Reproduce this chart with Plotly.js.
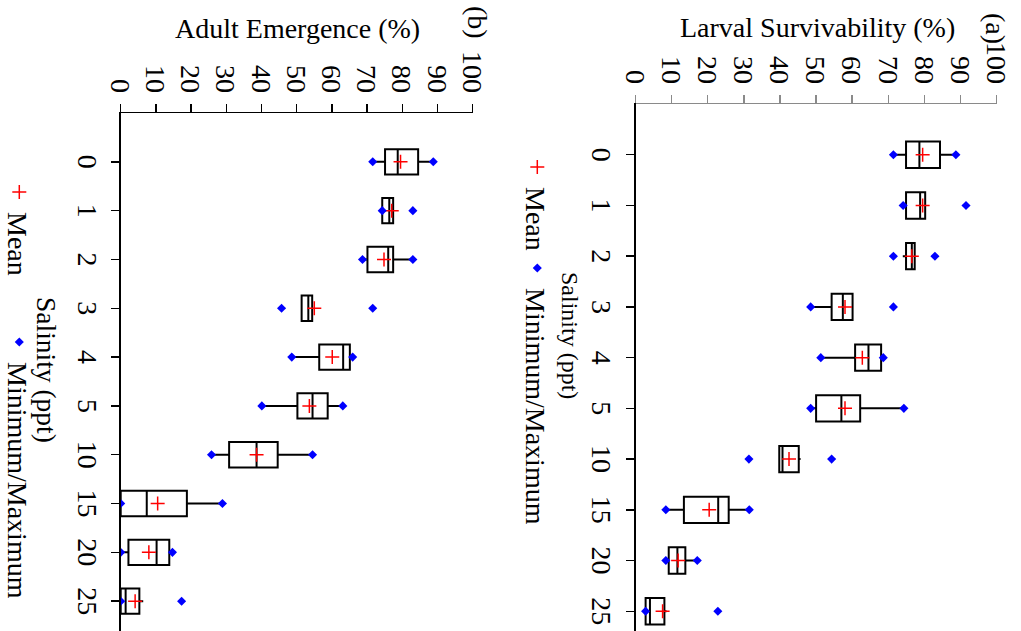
<!DOCTYPE html>
<html>
<head>
<meta charset="utf-8">
<script src="https://cdn.plot.ly/plotly-3.0.1.min.js"></script>
<style>
html, body { margin: 0; padding: 0; overflow: hidden; width: 1021px; height: 631px; background: #ffffff; }
#wrap { position: absolute; left: 0; top: 0; width: 700px; height: 1060px;
        transform-origin: 0 0; transform: translate(1021px, 0) rotate(90deg); }
</style>
</head>
<body>
<div id="wrap"></div>
<script>
// ---------- data ----------
const salinity = ['0', '1', '2', '3', '4', '5', '10', '15', '20', '25'];
const valueTicks = [0, 10, 20, 30, 40, 50, 60, 70, 80, 90, 100];

// (a) Larval Survivability (%)
const larvalMin    = [71.4, 74.1, 71.4, 48.5, 51.3, 48.5, 31.4,  8.4,  8.4,  2.8];
const larvalQ1     = [74.9, 74.9, 74.9, 54.3, 60.8, 50.0, 39.8, 13.4,  9.2,  2.8];
const larvalMedian = [78.6, 78.8, 76.5, 57.4, 64.5, 57.0, 40.7, 22.9, 11.6,  4.0];
const larvalQ3     = [84.3, 80.2, 77.3, 60.1, 68.0, 62.2, 45.2, 25.8, 13.8,  8.0];
const larvalMax    = [88.7, 91.5, 82.9, 71.4, 68.6, 74.3, 54.3, 31.5, 17.1, 22.8];
const larvalMean   = [79.5, 79.5, 76.5, 58.0, 62.8, 58.0, 42.5, 20.4, 11.8,  7.5];
const larvalLowW   = [71.4, 74.1, 74.0, 48.5, 51.3, 48.5, 39.8,  8.4,  8.4,  2.8];
const larvalHighW  = [88.7, 80.2, 77.3, 60.1, 68.6, 74.3, 45.7, 31.5, 17.1,  8.6];

// (b) Adult Emergence (%)
const adultMin    = [71.6, 74.3, 68.7, 45.7, 48.6, 40.1, 25.8,  0.0,  0.0,  0.0];
const adultQ1     = [75.1, 74.3, 70.1, 51.4, 56.4, 50.2, 30.8,  0.0,  2.2,  0.0];
const adultMedian = [78.7, 76.3, 76.0, 53.3, 63.2, 54.5, 38.6,  7.4, 10.2,  1.4];
const adultQ3     = [84.5, 77.4, 77.4, 54.4, 65.1, 58.8, 44.6, 18.8, 13.8,  5.3];
const adultMax    = [88.8, 83.0, 83.0, 71.6, 65.9, 63.1, 54.5, 28.9, 14.7, 17.3];
const adultMean   = [79.5, 77.0, 74.8, 55.0, 60.1, 53.6, 38.6, 10.5,  8.0,  4.1];
const adultLowW   = [71.6, 74.3, 68.7, 51.4, 48.6, 40.1, 25.8,  0.0,  0.0,  0.0];
const adultHighW  = [88.8, 77.4, 83.0, 54.4, 65.9, 63.1, 54.5, 28.9, 14.7,  6.4];

// ---------- figure (drawn upright, then rotated 90deg clockwise) ----------
const W = 700, H = 1060;
const FONT = 'Liberation Serif, Times New Roman, serif';
const px = X => X / W;
const py = Y => 1 - Y / H;
const catIndex = salinity.map((_, i) => i);

function boxTrace(q1, med, q3, lo, hi, xa, ya) {
  return {
    type: 'box', x: salinity, q1: q1, median: med, q3: q3,
    lowerfence: lo, upperfence: hi,
    xaxis: xa, yaxis: ya, width: 0.52, whiskerwidth: 0,
    boxpoints: false, line: { color: '#000000', width: 2 },
    fillcolor: 'rgba(255,255,255,0)', showlegend: false, hoverinfo: 'skip'
  };
}
function meanTrace(mean, xa, ya, leg) {
  return {
    type: 'scatter', mode: 'markers', x: salinity, y: mean, name: 'Mean',
    xaxis: xa, yaxis: ya, legend: leg, showlegend: true,
    marker: { symbol: 'cross-thin-open', size: 10, color: '#ff0000',
              line: { color: '#ff0000', width: 1.5 } }
  };
}
function minMaxTrace(mn, mx, xa, ya, leg) {
  return {
    type: 'scatter', mode: 'markers', x: salinity.concat(salinity), y: mn.concat(mx),
    name: 'Minimum/Maximum', xaxis: xa, yaxis: ya, legend: leg, showlegend: true,
    marker: { symbol: 'diamond', size: 7, color: '#0000ff' }
  };
}

const data = [
  boxTrace(larvalQ1, larvalMedian, larvalQ3, larvalLowW, larvalHighW, 'x', 'y'),
  meanTrace(larvalMean, 'x', 'y', 'legend'),
  minMaxTrace(larvalMin, larvalMax, 'x', 'y', 'legend3'),
  boxTrace(adultQ1, adultMedian, adultQ3, adultLowW, adultHighW, 'x2', 'y2'),
  meanTrace(adultMean, 'x2', 'y2', 'legend2'),
  minMaxTrace(adultMin, adultMax, 'x2', 'y2', 'legend4')
];

const GRAY = '#8a8a8a';
function catAxis(domain, anchor) {
  return {
    domain: domain, anchor: anchor, type: 'category', categoryorder: 'array', categoryarray: salinity,
    range: [-1, 10], tickmode: 'array', tickvals: salinity, ticktext: salinity,
    showline: true, linecolor: '#000000', linewidth: 1.5,
    ticks: 'outside', ticklen: 8, tickwidth: 1.5, tickcolor: '#000000',
    tickfont: { family: FONT, size: 28, color: '#000000' },
    showgrid: false, zeroline: false, automargin: false, fixedrange: true
  };
}
function catOverlay(over, anchor) {
  return {
    overlaying: over, anchor: anchor, side: 'bottom', type: 'linear', range: [-1, 10],
    tickmode: 'array', tickvals: catIndex, ticks: 'inside', ticklen: 8, tickwidth: 1.5,
    tickcolor: '#000000', showticklabels: false, showline: false, showgrid: false,
    zeroline: false, automargin: false, fixedrange: true
  };
}
function valAxis(domain, anchor, col) {
  return {
    domain: domain, anchor: anchor, range: [0, 100], tickmode: 'array', tickvals: valueTicks,
    showline: true, linecolor: col, linewidth: 1.5,
    ticks: 'outside', ticklen: 8, tickwidth: 1.5, tickcolor: col, ticklabelstandoff: 5,
    tickfont: { family: FONT, size: 28, color: '#000000' },
    showgrid: false, zeroline: false, automargin: false, fixedrange: true
  };
}
function valOverlay(over, anchor, col) {
  return {
    overlaying: over, anchor: anchor, side: 'left', range: [0, 100], tickmode: 'array',
    tickvals: valueTicks, ticks: 'inside', ticklen: 8, tickwidth: 1.5, tickcolor: col,
    showticklabels: false, showline: false, showgrid: false, zeroline: false,
    automargin: false, fixedrange: true
  };
}
function legendAt(X, Y) {
  return { orientation: 'h', x: px(X), xanchor: 'left', y: py(Y), yanchor: 'middle',
           bgcolor: 'rgba(0,0,0,0)', font: { family: FONT, size: 28 } };
}

const layout = {
  width: W, height: H,
  margin: { l: 0, r: 0, t: 0, b: 0, pad: 0 },
  paper_bgcolor: '#ffffff', plot_bgcolor: 'rgba(0,0,0,0)',
  font: { family: FONT, size: 28, color: '#000000' },
  xaxis:  catAxis([px(104), px(662)], 'y'),
  yaxis:  valAxis([py(385.5), py(24.3)], 'x', GRAY),
  xaxis2: catAxis([px(113), px(650)], 'y2'),
  yaxis2: valAxis([py(900.3), py(548.3)], 'x2', '#000000'),
  xaxis3: catOverlay('x', 'y'),
  yaxis3: valOverlay('y', 'x', GRAY),
  xaxis4: catOverlay('x2', 'y2'),
  yaxis4: valOverlay('y2', 'x2', '#000000'),
  legend:  legendAt(147, 484),
  legend3: legendAt(248, 484),
  legend2: legendAt(172, 1002),
  legend4: legendAt(322, 1002),
  annotations: [
    { text: 'Larval Survivability (%)', xref: 'paper', yref: 'paper', x: px(28), y: py(204),
      textangle: -90, showarrow: false, xanchor: 'center', yanchor: 'middle', font: { size: 28 } },
    { text: 'Adult Emergence (%)', xref: 'paper', yref: 'paper', x: px(28), y: py(724),
      textangle: -90, showarrow: false, xanchor: 'center', yanchor: 'middle', font: { size: 28 } },
    { text: '(a)', xref: 'paper', yref: 'paper', x: px(28), y: py(26),
      showarrow: false, xanchor: 'center', yanchor: 'middle', font: { size: 28 } },
    { text: '(b)', xref: 'paper', yref: 'paper', x: px(22), y: py(543),
      showarrow: false, xanchor: 'center', yanchor: 'middle', font: { size: 28 } },
    { text: 'Salinity (ppt)', xref: 'paper', yref: 'paper', x: px(335), y: py(451),
      showarrow: false, xanchor: 'center', yanchor: 'middle', font: { size: 24 } },
    { text: 'Salinity (ppt)', xref: 'paper', yref: 'paper', x: px(370), y: py(974),
      showarrow: false, xanchor: 'center', yanchor: 'middle', font: { size: 27.5 } }
  ]
};

Plotly.newPlot('wrap', data, layout, { displayModeBar: false, staticPlot: true });
</script>
</body>
</html>
